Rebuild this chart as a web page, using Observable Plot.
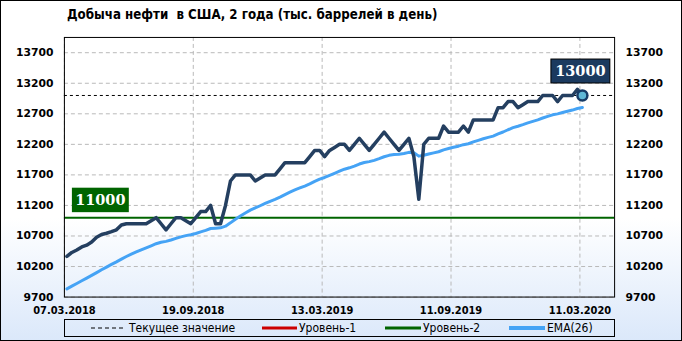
<!DOCTYPE html>
<html>
<head>
<meta charset="utf-8">
<script src="https://cdn.jsdelivr.net/npm/d3@7"></script>
<script src="https://cdn.jsdelivr.net/npm/@observablehq/plot@0.6"></script>
<style>
  html, body { margin: 0; padding: 0; background: #fff; }
  #chart {
    position: relative; width: 682px; height: 341px; box-sizing: border-box;
    border: 1px solid #000; overflow: hidden;
    background: linear-gradient(to bottom, #ffffff 0%, #ffffff 64%, #dbe8fa 100%);
  }
  #title {
    position: absolute; left: 66px; top: 6px; white-space: pre;
    font: bold 13.2px "DejaVu Sans Condensed", "DejaVu Sans", sans-serif; color: #000;
  }
  #plot { position: absolute; left: -1px; top: -1px; }
  #legend {
    position: absolute; left: 63px; top: 318px; width: 551px; height: 18px;
    box-sizing: border-box; border: 1px solid #000;
    font: 12px "DejaVu Sans Condensed", "DejaVu Sans", sans-serif; color: #000;
  }
  #legend .item { position: absolute; top: 0; height: 16px; line-height: 16px; white-space: nowrap; }
  #legend svg { position: absolute; top: 0; }
</style>
</head>
<body>
<div id="chart">
  <div id="title"></div>
  <div id="plot"></div>
  <div id="legend"></div>
</div>
<script>
// ---- data ----
const titleText = "Добыча нефти  в США, 2 года (тыс. баррелей в день)";
const production = [
  10365, 10430, 10470, 10520, 10550, 10600, 10680, 10725, 10745, 10770,
  10800, 10880, 10900, 10900, 10900, 10900, 10900, 10950, 11000, 10900,
  10800, 10900, 11000, 11000, 10950, 10900, 11000, 11100, 11100, 11200,
  10900, 10900, 11200, 11600, 11700, 11700, 11700, 11700, 11600, 11650,
  11700, 11700, 11700, 11800, 11900, 11900, 11900, 11900, 11900, 12000,
  12100, 12100, 12000, 12100, 12150, 12200, 12200, 12100, 12200, 12300,
  12200, 12100, 12200, 12300, 12400, 12300, 12200, 12100, 12200, 12300,
  12000, 11300, 12200, 12300, 12300, 12300, 12500, 12400, 12400, 12400,
  12500, 12400, 12600, 12600, 12600, 12600, 12600, 12800, 12800, 12900,
  12900, 12800, 12850, 12900, 12900, 12900, 13000, 13000, 13000, 12900,
  13000, 13000, 13000, 13100, 13000
];
const ema26 = [
   9835,  9879,  9923,  9967, 10010, 10054, 10100, 10147, 10191, 10234,
  10276, 10321, 10364, 10404, 10440, 10474, 10506, 10539, 10573, 10597,
  10612, 10634, 10661, 10686, 10706, 10720, 10741, 10768, 10792, 10822,
  10828, 10833, 10860, 10915, 10973, 11027, 11077, 11123, 11158, 11195,
  11232, 11267, 11299, 11336, 11378, 11417, 11453, 11486, 11517, 11553,
  11594, 11631, 11658, 11691, 11725, 11760, 11793, 11816, 11844, 11878,
  11902, 11917, 11938, 11965, 11997, 12020, 12033, 12038, 12050, 12069,
  12064, 12007, 12021, 12042, 12061, 12079, 12110, 12132, 12152, 12170,
  12195, 12210, 12239, 12266, 12291, 12314, 12335, 12370, 12402, 12439,
  12473, 12497, 12523, 12551, 12577, 12601, 12631, 12658, 12683, 12699,
  12721, 12742, 12761, 12786, 12802
];
const xTickLabels = ["07.03.2018", "19.09.2018", "13.03.2019", "11.09.2019", "11.03.2020"];
const xTickStep = 26;           // categories between labelled dates
const categorySlots = 111;      // slots on the category axis
const yTicks = [9700, 10200, 10700, 11200, 11700, 12200, 12700, 13200, 13700];
const yMax = 13950;
const currentValue = 13000;
const level2 = 11000;
const legendItems = ["Текущее значение", "Уровень-1", "Уровень-2", "EMA(26)"];

// ---- build ----
const rows = production.map((v, i) => ({x: i + 0.5, v, ema: ema26[i]}));
const last = rows[rows.length - 1];
const xTicks = xTickLabels.map((d, i) => i * xTickStep);

const NAVY = "#243f60", EMA_C = "#45a3f5", GREEN = "#006400", GRID = "#b9b9b9";
const axisFont = {fontWeight: "bold", fontSize: 10.8, fill: "#000"};

const plot = Plot.plot({
  width: 682, height: 341,
  marginTop: 37, marginBottom: 44, marginLeft: 64, marginRight: 67,
  style: {background: "transparent", fontFamily: "'DejaVu Sans', sans-serif", overflow: "visible"},
  x: {domain: [0, categorySlots], axis: null, label: null},
  y: {domain: [yTicks[0], yMax], axis: null, label: null},
  marks: [
    Plot.gridX(xTicks, {stroke: GRID, strokeOpacity: 1, strokeDasharray: "4,3"}),
    Plot.gridY(yTicks, {stroke: GRID, strokeOpacity: 1, strokeDasharray: "4,3"}),
    Plot.ruleY([level2], {stroke: GREEN, strokeWidth: 2}),
    Plot.ruleY([currentValue], {stroke: "#000", strokeWidth: 1, strokeDasharray: "3,3"}),
    Plot.lineY(rows, {x: "x", y: "ema", stroke: EMA_C, strokeWidth: 3}),
    Plot.lineY(rows, {x: "x", y: "v", stroke: NAVY, strokeWidth: 3.5, strokeLinejoin: "round"}),
    Plot.dot([last], {x: "x", y: "v", r: 5, fill: "#5fb8d6", stroke: "#173b66", strokeWidth: 2.5}),
    Plot.frame({stroke: "#000"}),
    Plot.axisY(yTicks, {anchor: "left", tickSize: 0, tickPadding: 11, label: null, tickFormat: d3.format("d"), ...axisFont}),
    Plot.axisY(yTicks, {anchor: "right", tickSize: 0, tickPadding: 11, label: null, tickFormat: d3.format("d"), ...axisFont}),
    Plot.axisX(xTicks, {anchor: "bottom", tickSize: 0, tickPadding: 9, label: null, ...axisFont,
      fontFamily: "'DejaVu Sans Condensed', 'DejaVu Sans', sans-serif", fontSize: 11,
      tickFormat: d => xTickLabels[xTicks.indexOf(d)]})
  ]
});
document.getElementById("plot").appendChild(plot);

// value labels positioned through the plot's own scales
const sx = plot.scale("x"), sy = plot.scale("y");
const svg = d3.select(plot);
function valueBox(cx, bottom, w, h, fill, stroke, label) {
  const g = svg.append("g");
  g.append("rect").attr("x", cx - w / 2).attr("y", bottom - h).attr("width", w).attr("height", h)
    .attr("fill", fill).attr("stroke", stroke || "none").attr("stroke-width", 1);
  g.append("text").attr("x", cx).attr("y", bottom - h / 2).attr("dy", "0.36em")
    .attr("text-anchor", "middle").attr("fill", "#fff")
    .style("font", "bold 14.5px 'DejaVu Serif', serif").text(label);
}
valueBox(sx.apply(last.x) - 1.5, sy.apply(currentValue) - 12, 59, 24, "#1b3a5f", "#000", String(currentValue));
valueBox(sx.apply(0) + 36.5, sy.apply(level2) - 5, 57, 24.5, GREEN, null, String(level2));

// title
document.getElementById("title").textContent = titleText;

// legend
const legend = document.getElementById("legend");
const samples = [
  {left: 26, w: 32, stroke: "#000", sw: 1, dash: "4,3"},
  {left: 197, w: 35, stroke: "#cc0000", sw: 3},
  {left: 320, w: 36, stroke: GREEN, sw: 3},
  {left: 444, w: 36, stroke: EMA_C, sw: 4}
];
const textLeft = [64, 234, 358, 482];
legendItems.forEach((name, i) => {
  const s = samples[i];
  const sv = d3.create("svg").attr("width", s.w).attr("height", 16).style("left", s.left + "px");
  sv.append("line").attr("x1", 0).attr("x2", s.w).attr("y1", 8).attr("y2", 8)
    .attr("stroke", s.stroke).attr("stroke-width", s.sw).attr("stroke-dasharray", s.dash || null);
  legend.appendChild(sv.node());
  const t = document.createElement("div");
  t.className = "item"; t.style.left = textLeft[i] + "px"; t.textContent = name;
  legend.appendChild(t);
});
</script>
</body>
</html>
